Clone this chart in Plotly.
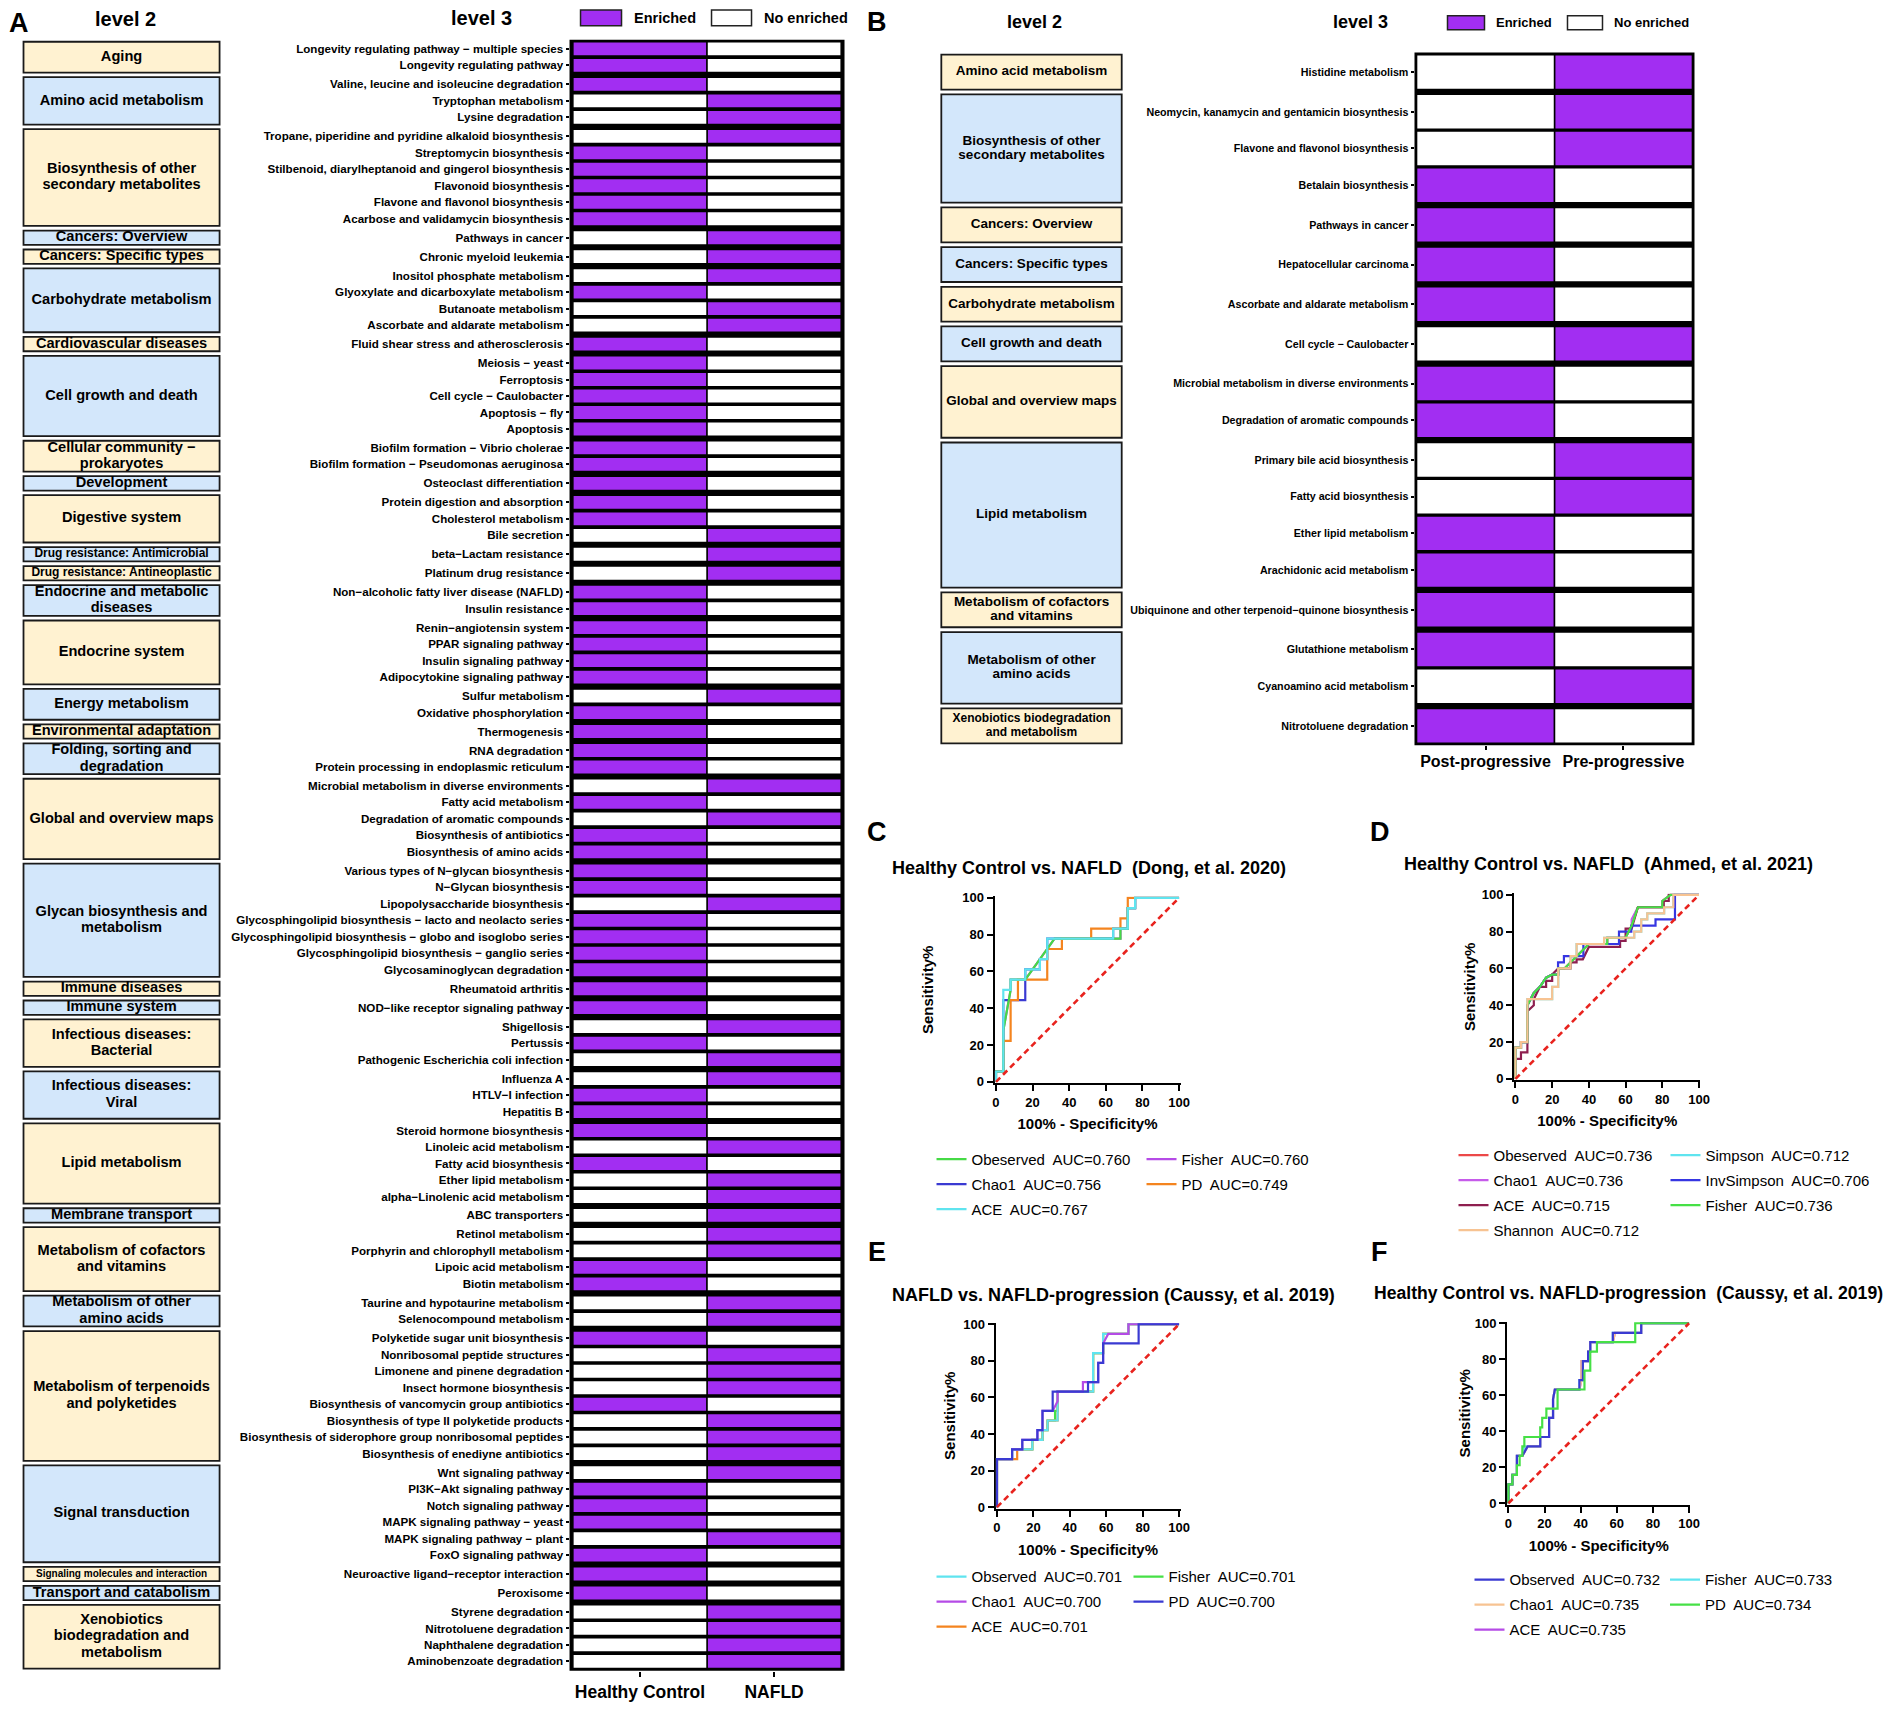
import plotly.graph_objects as go

# the page keeps the browser's default 8px body margin, so the figure is 16px smaller
# than the window; positions below are given in reference pixels and mapped by px/py
W, H = 1902, 1710
M = 8
FW, FH = W - 2 * M, H - 2 * M
FONT = "Arial, Liberation Sans, Helvetica, sans-serif"
PURPLE = "#A22EF2"
CREAM = "#FFF2D1"
SKY = "#D3E7FB"


def px(x):
    xx = (x - 2.5) / 0.9942
    return (xx - M) / FW


def py(y):
    yy = (y - 5.2) / 0.9925
    return 1 - (yy - M) / FH


# ---------------- panel A : Healthy Control vs NAFLD ----------------
a_columns = ["Healthy Control", "NAFLD"]
a_level2 = [
    "Aging", "Amino acid metabolism", "Biosynthesis of other<br>secondary metabolites",
    "Cancers: Overview", "Cancers: Specific types", "Carbohydrate metabolism",
    "Cardiovascular diseases", "Cell growth and death", "Cellular community \u2212<br>prokaryotes",
    "Development", "Digestive system", "Drug resistance: Antimicrobial",
    "Drug resistance: Antineoplastic", "Endocrine and metabolic<br>diseases", "Endocrine system",
    "Energy metabolism", "Environmental adaptation", "Folding, sorting and<br>degradation",
    "Global and overview maps", "Glycan biosynthesis and<br>metabolism", "Immune diseases",
    "Immune system", "Infectious diseases:<br>Bacterial", "Infectious diseases:<br>Viral",
    "Lipid metabolism", "Membrane transport", "Metabolism of cofactors<br>and vitamins",
    "Metabolism of other<br>amino acids", "Metabolism of terpenoids<br>and polyketides",
    "Signal transduction", "Signaling molecules and interaction", "Transport and catabolism",
    "Xenobiotics<br>biodegradation and<br>metabolism",
]
a_level2_size = [2, 3, 6, 1, 1, 4, 1, 5, 2, 1, 3, 1, 1, 2, 4, 2, 1, 2, 5, 7, 1, 1, 3, 3, 5,
                 1, 4, 2, 8, 6, 1, 1, 4]
a_level3 = [
    "Longevity regulating pathway \u2212 multiple species", "Longevity regulating pathway",
    "Valine, leucine and isoleucine degradation", "Tryptophan metabolism", "Lysine degradation",
    "Tropane, piperidine and pyridine alkaloid biosynthesis", "Streptomycin biosynthesis",
    "Stilbenoid, diarylheptanoid and gingerol biosynthesis", "Flavonoid biosynthesis",
    "Flavone and flavonol biosynthesis", "Acarbose and validamycin biosynthesis",
    "Pathways in cancer", "Chronic myeloid leukemia", "Inositol phosphate metabolism",
    "Glyoxylate and dicarboxylate metabolism", "Butanoate metabolism",
    "Ascorbate and aldarate metabolism", "Fluid shear stress and atherosclerosis",
    "Meiosis \u2212 yeast", "Ferroptosis", "Cell cycle \u2212 Caulobacter", "Apoptosis \u2212 fly",
    "Apoptosis", "Biofilm formation \u2212 Vibrio cholerae",
    "Biofilm formation \u2212 Pseudomonas aeruginosa", "Osteoclast differentiation",
    "Protein digestion and absorption", "Cholesterol metabolism", "Bile secretion",
    "beta\u2212Lactam resistance", "Platinum drug resistance",
    "Non\u2212alcoholic fatty liver disease (NAFLD)", "Insulin resistance",
    "Renin\u2212angiotensin system", "PPAR signaling pathway", "Insulin signaling pathway",
    "Adipocytokine signaling pathway", "Sulfur metabolism", "Oxidative phosphorylation",
    "Thermogenesis", "RNA degradation", "Protein processing in endoplasmic reticulum",
    "Microbial metabolism in diverse environments", "Fatty acid metabolism",
    "Degradation of aromatic compounds", "Biosynthesis of antibiotics",
    "Biosynthesis of amino acids", "Various types of N\u2212glycan biosynthesis",
    "N\u2212Glycan biosynthesis", "Lipopolysaccharide biosynthesis",
    "Glycosphingolipid biosynthesis \u2212 lacto and neolacto series",
    "Glycosphingolipid biosynthesis \u2212 globo and isoglobo series",
    "Glycosphingolipid biosynthesis \u2212 ganglio series", "Glycosaminoglycan degradation",
    "Rheumatoid arthritis", "NOD\u2212like receptor signaling pathway", "Shigellosis",
    "Pertussis", "Pathogenic Escherichia coli infection", "Influenza A",
    "HTLV\u2212I infection", "Hepatitis B", "Steroid hormone biosynthesis",
    "Linoleic acid metabolism", "Fatty acid biosynthesis", "Ether lipid metabolism",
    "alpha\u2212Linolenic acid metabolism", "ABC transporters", "Retinol metabolism",
    "Porphyrin and chlorophyll metabolism", "Lipoic acid metabolism", "Biotin metabolism",
    "Taurine and hypotaurine metabolism", "Selenocompound metabolism",
    "Polyketide sugar unit biosynthesis", "Nonribosomal peptide structures",
    "Limonene and pinene degradation", "Insect hormone biosynthesis",
    "Biosynthesis of vancomycin group antibiotics",
    "Biosynthesis of type II polyketide products",
    "Biosynthesis of siderophore group nonribosomal peptides",
    "Biosynthesis of enediyne antibiotics", "Wnt signaling pathway",
    "PI3K\u2212Akt signaling pathway", "Notch signaling pathway",
    "MAPK signaling pathway \u2212 yeast", "MAPK signaling pathway \u2212 plant",
    "FoxO signaling pathway", "Neuroactive ligand\u2212receptor interaction", "Peroxisome",
    "Styrene degradation", "Nitrotoluene degradation", "Naphthalene degradation",
    "Aminobenzoate degradation",
]
# column index of the group where the pathway is enriched (0 = Healthy Control, 1 = NAFLD)
a_enriched = [0, 0, 0, 1, 1, 1, 0, 0, 0, 0, 0, 1, 1, 1, 0, 1, 1,
              0, 0, 0, 0, 0, 0, 0, 0, 0, 0, 0, 1, 1, 1, 0, 0, 0, 0, 0, 0,
              1, 0, 0, 0, 0, 1, 0, 1, 0, 0, 0, 0, 1, 0, 0, 0, 0, 0, 0,
              1, 0, 1, 1, 0, 0, 0, 1, 0, 1, 1, 1, 1, 1, 0, 0, 1, 1,
              0, 1, 1, 1, 0, 1, 1, 1, 1, 0, 0, 0, 1, 0, 0, 0, 1, 1, 1, 1]

# ---------------- panel B : Post- vs Pre-progressive ----------------
b_columns = ["Post-progressive", "Pre-progressive"]
b_level2 = [
    "Amino acid metabolism", "Biosynthesis of other<br>secondary metabolites",
    "Cancers: Overview", "Cancers: Specific types", "Carbohydrate metabolism",
    "Cell growth and death", "Global and overview maps", "Lipid metabolism",
    "Metabolism of cofactors<br>and vitamins", "Metabolism of other<br>amino acids",
    "Xenobiotics biodegradation<br>and metabolism",
]
b_level2_size = [1, 3, 1, 1, 1, 1, 2, 4, 1, 2, 1]
b_level3 = [
    "Histidine metabolism", "Neomycin, kanamycin and gentamicin biosynthesis",
    "Flavone and flavonol biosynthesis", "Betalain biosynthesis", "Pathways in cancer",
    "Hepatocellular carcinoma", "Ascorbate and aldarate metabolism",
    "Cell cycle \u2212 Caulobacter", "Microbial metabolism in diverse environments",
    "Degradation of aromatic compounds", "Primary bile acid biosynthesis",
    "Fatty acid biosynthesis", "Ether lipid metabolism", "Arachidonic acid metabolism",
    "Ubiquinone and other terpenoid\u2212quinone biosynthesis", "Glutathione metabolism",
    "Cyanoamino acid metabolism", "Nitrotoluene degradation",
]
b_enriched = [1, 1, 1, 0, 0, 0, 0, 1, 0, 0, 1, 1, 0, 0, 0, 0, 1, 0]

# ---------------- ROC curves (100% - specificity %, sensitivity %) ----------------
c_obeserved = [(0, 0), (0, 5.6), (4, 5.6), (4, 27.8), (8, 50), (8, 55.6), (16, 55.6), (32, 77.8),
               (68, 77.8), (68, 83.3), (72, 83.3), (72, 94.4), (76, 94.4), (76, 100), (100, 100)]
c_chao1 = [(0, 0), (0, 5.6), (4, 5.6), (4, 44.4), (16, 44.4), (16, 61.1), (24, 61.1), (24, 66.7),
           (28, 66.7), (28, 77.8), (64, 77.8), (64, 83.3), (72, 83.3), (72, 94.4), (76, 94.4),
           (76, 100), (100, 100)]
c_ace = [(0, 0), (0, 5.6), (4, 5.6), (4, 50), (8, 50), (8, 55.6), (16, 55.6), (16, 61.1),
         (24, 61.1), (24, 66.7), (28, 66.7), (28, 77.8), (64, 77.8), (64, 83.3), (72, 83.3),
         (72, 94.4), (76, 94.4), (76, 100), (100, 100)]
c_fisher = [(0, 0), (0, 5.6), (4, 5.6), (4, 27.8), (8, 50), (8, 55.6), (16, 55.6), (32, 77.8),
            (68, 77.8), (68, 83.3), (72, 83.3), (72, 94.4), (76, 94.4), (76, 100), (100, 100)]
c_pd = [(0, 0), (0, 5.6), (4, 5.6), (4, 22.2), (8, 22.2), (8, 44.4), (12, 44.4), (12, 55.6),
        (28, 55.6), (28, 72.2), (36, 72.2), (36, 77.8), (52, 77.8), (52, 83.3), (68, 83.3),
        (68, 88.9), (72, 88.9), (72, 100), (100, 100)]

d_obeserved = [(0, 0), (0, 17), (3, 17), (3, 20), (6.5, 20), (6.5, 40), (10, 46.7), (13.3, 50),
               (16.7, 55), (20, 56.7), (23.3, 56.7), (23.3, 60), (26.7, 60), (30, 63.3),
               (33.3, 66.7), (40, 73.3), (50, 73.3), (50, 76.7), (60, 76.7), (63.3, 83.3),
               (66.7, 93.3), (80, 93.3), (80, 96.7), (84.5, 100), (100, 100)]
d_chao1 = [(0, 0), (0, 17), (3, 17), (3, 20), (6.5, 20), (6.5, 40), (10, 46.7), (13.3, 50),
           (16.7, 55), (20, 56.7), (23.3, 56.7), (23.3, 60), (26.7, 60), (30, 63.3), (33.3, 66.7),
           (40, 73.3), (50, 73.3), (50, 76.7), (60, 76.7), (63.3, 83.3), (63.3, 86.7),
           (66.7, 93.3), (80, 93.3), (80, 96.7), (84.5, 100), (100, 100)]
d_ace = [(0, 0), (0, 10.8), (3, 10.8), (3, 14.4), (6.5, 14.4), (6.5, 36.7), (10, 40), (10, 43.3),
         (13.3, 50), (16.7, 50), (16.7, 53.3), (20, 53.3), (20, 56.7), (23.3, 60), (30, 60),
         (30, 63.3), (33.3, 63.3), (33.3, 65), (36.7, 65), (40, 71.7), (57, 71.7), (57, 75),
         (60, 75), (60, 81.7), (63.3, 81.7), (66.7, 93.3), (80.8, 93.3), (80.8, 96.7),
         (83.5, 96.7), (83.5, 100), (100, 100)]
d_shannon = [(0, 0), (0, 17), (3, 17), (3, 20), (6.5, 20), (6.5, 43.3), (20, 43.3), (20, 50),
             (23.3, 50), (23.3, 60), (30, 60), (30, 66.7), (33.3, 66.7), (33.3, 73.3), (48.3, 73.3),
             (48.3, 76.7), (64.7, 76.7), (64.7, 80), (68.5, 80), (68.5, 86.7), (71.8, 86.7),
             (71.8, 90), (81, 90), (81, 93.3), (86, 93.3), (86, 100), (100, 100)]
d_simpson = [(0, 0), (0, 17), (3, 17), (3, 20), (6.5, 20), (6.5, 43.3), (20, 43.3), (20, 50),
             (23.3, 50), (23.3, 60), (30, 60), (30, 66.7), (33.3, 66.7), (33.3, 73.3), (48.3, 73.3),
             (48.3, 76.7), (64.7, 76.7), (64.7, 80), (68.5, 80), (68.5, 86.7), (71.8, 86.7),
             (71.8, 90), (81, 90), (81, 93.3), (86, 93.3), (86, 100), (100, 100)]
d_invsimpson = [(0, 0), (0, 17), (3, 17), (3, 20), (6.5, 20), (6.5, 40), (10, 46.7), (13.3, 50),
                (16.7, 55), (20, 56.7), (23.2, 56.7), (23.2, 63.3), (26.4, 63.3), (26.4, 66.7),
                (37, 66.7), (37, 73.3), (56.4, 73.3), (56.4, 80), (63.1, 80), (63.1, 83.3),
                (76.3, 83.3), (76.3, 86.7), (86.9, 86.7), (86.9, 93.3), (86.9, 100), (100, 100)]
d_fisher = [(0, 0), (0, 17), (3, 17), (3, 20), (6.5, 20), (6.5, 40), (10, 46.7), (13.3, 50),
            (16.7, 55), (20, 56.7), (23.3, 56.7), (23.3, 60), (26.7, 60), (30, 63.3), (33.3, 66.7),
            (40, 73.3), (50, 73.3), (50, 76.7), (60, 76.7), (63.3, 83.3), (66.7, 93.3), (80, 93.3),
            (80, 96.7), (84.5, 100), (100, 100)]

e_observed = [(0, 0), (0, 26.3), (8.3, 26.3), (8.3, 31.6), (19.4, 31.6), (19.4, 36.8), (25, 36.8),
              (25, 42.1), (27.8, 42.1), (27.8, 47.4), (33.3, 47.4), (33.3, 63.2), (52.8, 63.2),
              (52.8, 84.2), (58.3, 84.2), (58.3, 94.7), (72.2, 94.7), (72.2, 100), (100, 100)]
e_chao1 = [(0, 0), (0, 26.3), (8.3, 26.3), (8.3, 31.6), (13.9, 31.6), (13.9, 36.8), (22.2, 36.8),
           (22.2, 42.1), (25, 42.1), (25, 52.6), (30.6, 52.6), (33.3, 57.9), (33.3, 63.2),
           (47.2, 63.2), (47.2, 68.4), (55.6, 68.4), (55.6, 78.9), (58.3, 78.9), (58.3, 89.5),
           (61.1, 94.7), (72.2, 94.7), (72.2, 100), (100, 100)]
e_ace = [(0, 0), (0, 26.3), (11.1, 26.3), (11.1, 31.6), (19.4, 31.6), (19.4, 36.8), (25, 36.8),
         (25, 42.1), (27.8, 42.1), (27.8, 47.4), (33.3, 47.4), (33.3, 63.2), (52.8, 63.2),
         (52.8, 84.2), (58.3, 84.2), (58.3, 94.7), (72.2, 94.7), (72.2, 100), (100, 100)]
e_fisher = [(0, 0), (0, 26.3), (8.3, 26.3), (8.3, 31.6), (19.4, 31.6), (19.4, 36.8), (25, 36.8),
            (25, 42.1), (27.8, 42.1), (27.8, 47.4), (31.9, 47.4), (31.9, 52.6), (33.3, 52.6),
            (33.3, 63.2), (52.8, 63.2), (52.8, 84.2), (58.3, 84.2), (58.3, 94.7), (72.2, 94.7),
            (72.2, 100), (100, 100)]
e_pd = [(0, 0), (0, 26.3), (8.3, 26.3), (8.3, 31.6), (13.9, 31.6), (13.9, 36.8), (22.2, 36.8),
        (22.2, 42.1), (25, 42.1), (25, 52.6), (30.6, 52.6), (30.6, 63.2), (50, 63.2), (50, 68.4),
        (55.6, 68.4), (55.6, 78.9), (58.3, 78.9), (58.3, 89.5), (77.8, 89.5), (77.8, 100),
        (100, 100)]

f_observed = [(0, 0), (0, 10.5), (2.2, 10.5), (2.2, 15.8), (4.7, 15.8), (4.7, 26.3), (7.7, 26.3),
              (10.6, 31.6), (17.6, 31.6), (17.6, 36.8), (22.5, 36.8), (22.5, 47.4), (24.7, 47.4),
              (24.7, 57.9), (25.7, 63.2), (39.3, 63.2), (39.3, 68.4), (41.2, 68.4), (41.2, 78.9),
              (44.1, 78.9), (44.1, 84.2), (45.3, 84.2), (45.3, 89.5), (57.8, 89.5), (57.8, 94.7),
              (73.5, 94.7), (73.5, 100), (100, 100)]
f_chao1 = [(0, 0), (0, 10.5), (2.2, 10.5), (2.2, 15.8), (4.7, 15.8), (4.7, 26.3), (7.7, 26.3),
           (10.6, 31.6), (17.6, 31.6), (17.6, 36.8), (22.5, 36.8), (22.5, 47.4), (24.7, 47.4),
           (24.7, 57.9), (25.7, 63.2), (39.3, 63.2), (40.4, 68.4), (40.4, 78.9), (44.1, 78.9),
           (44.1, 84.2), (45.3, 84.2), (45.3, 89.5), (57.8, 89.5), (59, 94.7), (73.5, 94.7),
           (73.5, 100), (100, 100)]
f_ace = [(0, 0), (0, 10.5), (2.2, 10.5), (2.2, 15.8), (4.7, 15.8), (4.7, 26.3), (7.7, 26.3),
         (10.6, 31.6), (17.6, 31.6), (17.6, 36.8), (22.5, 36.8), (22.5, 47.4), (24.7, 47.4),
         (24.7, 57.9), (25.7, 63.2), (39.3, 63.2), (40.4, 68.4), (40.4, 78.9), (44.1, 78.9),
         (44.1, 84.2), (45.3, 84.2), (45.3, 89.5), (57.8, 89.5), (59, 94.7), (73.5, 94.7),
         (73.5, 100), (100, 100)]
f_fisher = [(0, 0), (0, 10.5), (2.2, 10.5), (2.2, 15.8), (4.7, 15.8), (4.7, 26.3), (7.7, 26.3),
            (8.8, 31.6), (17.6, 31.6), (17.6, 36.8), (22.5, 36.8), (22.5, 47.4), (24.7, 47.4),
            (24.7, 57.9), (25.7, 63.2), (39.3, 63.2), (39.3, 68.4), (41.2, 68.4), (41.2, 78.9),
            (44.1, 78.9), (44.1, 84.2), (45.3, 84.2), (45.3, 89.5), (57.8, 89.5), (57.8, 94.7),
            (73.5, 94.7), (73.5, 100), (100, 100)]
f_pd = [(0, 0), (0, 10.5), (2.2, 10.5), (2.2, 15.8), (4.7, 15.8), (4.7, 21.1), (6.2, 21.1),
        (6.2, 26.3), (7.7, 26.3), (7.7, 31.6), (8.8, 31.6), (8.8, 36.8), (17.6, 36.8),
        (17.6, 42.1), (18.7, 42.1), (18.7, 47.4), (21, 47.4), (21, 52.6), (27.2, 52.6),
        (27.2, 63.2), (42.1, 63.2), (42.1, 73.7), (45.3, 73.7), (45.3, 84.2), (49, 84.2),
        (49, 89.5), (70.2, 89.5), (70.2, 100), (100, 100)]

chance = [(0, 0), (100, 100)]

GREEN, BLUE, CYAN, VIOLET, ORANGE = "#46DA46", "#3A3AD2", "#5FE4EF", "#B54BE6", "#F4841F"
RED, MAROON, PEACH = "#EC4848", "#8E1F4F", "#F7C392"

# (curve, legend text, colour, legend column, rank) in drawing order
roc_c = [(c_fisher, "Fisher\u00a0 AUC=0.760", VIOLET, 2, 4),
         (c_chao1, "Chao1\u00a0 AUC=0.756", BLUE, 1, 2),
         (c_pd, "PD\u00a0 AUC=0.749", ORANGE, 2, 5),
         (c_obeserved, "Obeserved\u00a0 AUC=0.760", GREEN, 1, 1),
         (c_ace, "ACE\u00a0 AUC=0.767", CYAN, 1, 3)]
roc_d = [(d_obeserved, "Obeserved\u00a0 AUC=0.736", RED, 1, 1),
         (d_chao1, "Chao1\u00a0 AUC=0.736", "#C65BEA", 1, 2),
         (d_simpson, "Simpson\u00a0 AUC=0.712", CYAN, 2, 5),
         (d_ace, "ACE\u00a0 AUC=0.715", MAROON, 1, 3),
         (d_invsimpson, "InvSimpson\u00a0 AUC=0.706", "#3636E2", 2, 6),
         (d_fisher, "Fisher\u00a0 AUC=0.736", "#46E046", 2, 7),
         (d_shannon, "Shannon\u00a0 AUC=0.712", PEACH, 1, 4)]
roc_e = [(e_fisher, "Fisher\u00a0 AUC=0.701", "#46E046", 2, 4),
         (e_ace, "ACE\u00a0 AUC=0.701", ORANGE, 1, 3),
         (e_observed, "Observed\u00a0 AUC=0.701", CYAN, 1, 1),
         (e_chao1, "Chao1\u00a0 AUC=0.700", VIOLET, 1, 2),
         (e_pd, "PD\u00a0 AUC=0.700", BLUE, 2, 5)]
roc_f = [(f_ace, "ACE\u00a0 AUC=0.735", VIOLET, 1, 3),
         (f_fisher, "Fisher\u00a0 AUC=0.733", CYAN, 2, 4),
         (f_chao1, "Chao1\u00a0 AUC=0.735", PEACH, 1, 2),
         (f_observed, "Observed\u00a0 AUC=0.732", BLUE, 1, 1),
         (f_pd, "PD\u00a0 AUC=0.734", "#46E046", 2, 5)]


def row_positions(sizes, gap):
    pos, y = [], 0.0
    for n in sizes:
        for _ in range(n):
            pos.append(y)
            y += 1
        y += gap
    return pos


def group_boxes(sizes, pos, cell):
    centers, spans, k = [], [], 0
    for n in sizes:
        first, last = pos[k], pos[k + n - 1]
        centers.append((first + last) / 2)
        spans.append(last - first + cell)
        k += n
    return centers, spans


fig = go.Figure()
shapes, annotations = [], []


def add_enrichment(level2, sizes, level3, enriched, xa, xa_box, ya, cell, gap, small, line_gap):
    pos = row_positions(sizes, gap)
    n = len(level3)
    fig.add_trace(go.Bar(orientation="h", y=pos, x=[1] * n, base=enriched, width=cell,
                         marker=dict(color=PURPLE, line=dict(color="black", width=1.5)),
                         name="Enriched", showlegend=False, hoverinfo="skip",
                         xaxis=xa, yaxis=ya))
    fig.add_trace(go.Bar(orientation="h", y=pos, x=[1] * n, base=[1 - e for e in enriched],
                         width=cell,
                         marker=dict(color="white", line=dict(color="black", width=1.5)),
                         name="No enriched", showlegend=False, hoverinfo="skip",
                         xaxis=xa, yaxis=ya))
    centers, spans = group_boxes(sizes, pos, cell)
    fills = [CREAM if i % 2 == 0 else SKY for i in range(len(level2))]
    fig.add_trace(go.Bar(orientation="h", y=centers, x=[1] * len(centers), base=0, width=spans,
                         marker=dict(color=fills, line=dict(color="#1a1a1a", width=1.8)),
                         showlegend=False, hoverinfo="skip", xaxis=xa_box, yaxis=ya))
    # one text point per printed line so the line spacing can follow the reference
    ly, lt, ls = [], [], []
    for lab, c in zip(level2, centers):
        parts = lab.split("<br>")
        for i, part in enumerate(parts):
            ly.append(c + (i - (len(parts) - 1) / 2) * line_gap)
            lt.append(part)
            ls.append(small.get(lab, small["default"]))
    fig.add_trace(go.Scatter(x=[0.5] * len(ly), y=ly, mode="text", text=lt,
                             textfont=dict(family=FONT, color="black", weight="bold", size=ls),
                             showlegend=False, hoverinfo="skip", xaxis=xa_box, yaxis=ya))
    return pos


a_cell, a_gap = 0.87, 0.15
b_cell, b_gap = 0.95, 0.08
a_pos = add_enrichment(a_level2, a_level2_size, a_level3, a_enriched, "x", "x2", "y",
                       a_cell, a_gap,
                       {"default": 14.6, "Drug resistance: Antimicrobial": 12,
                        "Drug resistance: Antineoplastic": 12,
                        "Signaling molecules and interaction": 10}, 1.0)
b_pos = add_enrichment(b_level2, b_level2_size, b_level3, b_enriched, "x3", "x4", "y3",
                       b_cell, b_gap,
                       {"default": 13.5, "Xenobiotics biodegradation<br>and metabolism": 12},
                       0.39)

# black frame behind the heatmap cells
for xr, yr in (("x domain", "y domain"), ("x3 domain", "y3 domain")):
    shapes.append(dict(type="rect", xref=xr, yref=yr, x0=0, x1=1, y0=0, y1=1,
                       fillcolor="black", line=dict(width=0), layer="below"))

rocs = [(roc_c, 5, 1), (roc_d, 6, 3), (roc_e, 7, 5), (roc_f, 8, 7)]
for curves, ax, leg in rocs:
    for pts, name, color, col, rank in curves:
        xs, ys = zip(*pts)
        lg = "legend" if (leg + col - 1) == 1 else "legend%d" % (leg + col - 1)
        fig.add_trace(go.Scatter(x=xs, y=ys, mode="lines", name=name,
                                 line=dict(color=color, width=2.2),
                                 legend=lg, legendgroup=lg + name, legendrank=rank,
                                 hoverinfo="skip", xaxis="x%d" % ax, yaxis="y%d" % ax))
    xs, ys = zip(*chance)
    fig.add_trace(go.Scatter(x=xs, y=ys, mode="lines", line=dict(color="#E8231E", width=2.6,
                                                                 dash="6px,4px"),
                             showlegend=False, hoverinfo="skip",
                             xaxis="x%d" % ax, yaxis="y%d" % ax))


def text(x, y, s, size, xanchor="center", weight="bold"):
    annotations.append(dict(x=px(x), y=py(y), xref="paper", yref="paper", text=s,
                            showarrow=False, xanchor=xanchor, yanchor="middle",
                            font=dict(family=FONT, size=size, color="black", weight=weight)))


def key_box(x0, x1, y0, y1, color):
    shapes.append(dict(type="rect", xref="paper", yref="paper", x0=px(x0), x1=px(x1),
                       y0=py(y1), y1=py(y0), fillcolor=color,
                       line=dict(color="#222222", width=1.5)))


# panel letters
for letter, x, y in (("A", 19, 22), ("B", 877, 21), ("C", 877, 836), ("D", 1380, 836),
                     ("E", 877, 1259), ("F", 1380, 1259)):
    text(x, y, letter, 27)

# headers and enrichment keys
text(126, 18, "level 2", 20)
text(482, 17, "level 3", 20)
key_box(581, 622, 9, 25, PURPLE)
text(632, 17, "Enriched", 14.5, "left")
key_box(712, 752, 9, 25, "white")
text(762, 17, "No enriched", 14.5, "left")

text(1035, 21, "level 2", 18)
text(1361, 21, "level 3", 18)
key_box(1448, 1485, 15, 29, PURPLE)
text(1495, 22, "Enriched", 13, "left")
key_box(1568, 1603, 15, 29, "white")
text(1613, 22, "No enriched", 13, "left")

# ROC titles
text(1089, 872, "Healthy Control vs. NAFLD\u00a0 (Dong, et al. 2020)", 18)
text(1609, 868, "Healthy Control vs. NAFLD\u00a0 (Ahmed, et al. 2021)", 18)
text(1114, 1302, "NAFLD vs. NAFLD-progression (Caussy, et al. 2019)", 18)
annotations.append(dict(x=1.0, y=py(1300), xref="paper", yref="paper",
                        text="Healthy Control vs. NAFLD-progression\u00a0 (Caussy, et al. 2019)",
                        showarrow=False, xanchor="right", yanchor="middle",
                        font=dict(family=FONT, size=17.6, color="black", weight="bold")))

layout = dict(
    width=FW, height=FH, margin=dict(l=0, r=0, t=0, b=0), paper_bgcolor="white",
    plot_bgcolor="white", barmode="overlay", hovermode=False, showlegend=True,
    font=dict(family=FONT, color="black"), shapes=shapes, annotations=annotations,
)


def tick_bold(s):
    return dict(family=FONT, size=s, color="black", weight="bold")


# panel A axes
layout["xaxis"] = dict(domain=[px(570), px(845)], range=[-0.025, 2.025], anchor="y",
                       tickmode="array", tickvals=[0.5, 1.5], ticktext=a_columns,
                       ticks="outside", ticklen=5, tickwidth=1.5, tickcolor="black",
                       tickfont=tick_bold(17.5), showgrid=False, zeroline=False, showline=False)
layout["yaxis"] = dict(domain=[py(1680), py(39)], range=[a_pos[-1] + 0.56, -0.56],
                       autorange=False, anchor="x", tickmode="array", tickvals=a_pos,
                       ticktext=a_level3, ticks="outside", ticklen=3, tickwidth=1.5,
                       tickcolor="black", tickfont=tick_bold(11.6), showgrid=False,
                       zeroline=False, showline=False)
layout["xaxis2"] = dict(domain=[px(22), px(222)], range=[-0.01, 1.01], anchor="y",
                        visible=False, showgrid=False, zeroline=False)

# panel B axes
layout["xaxis3"] = dict(domain=[px(1415), px(1695)], range=[-0.015, 2.015], anchor="y3",
                        tickmode="array", tickvals=[0.5, 1.5], ticktext=b_columns,
                        ticks="outside", ticklen=4, tickwidth=1.5, tickcolor="black",
                        ticklabelstandoff=-3,
                        tickfont=tick_bold(16), showgrid=False, zeroline=False, showline=False)
layout["yaxis3"] = dict(domain=[py(749), py(52)], range=[b_pos[-1] + 0.53, -0.53],
                        autorange=False, anchor="x3", tickmode="array", tickvals=b_pos,
                        ticktext=b_level3, ticks="outside", ticklen=3, tickwidth=1.5,
                        tickcolor="black", tickfont=tick_bold(10.7), showgrid=False,
                        zeroline=False, showline=False)
layout["xaxis4"] = dict(domain=[px(940), px(1124)], range=[-0.01, 1.01], anchor="y3",
                        visible=False, showgrid=False, zeroline=False)

# ROC axes: (axis index, x0, x1, y_top, y_bottom, y-title standoff)
roc_boxes = [(5, 995, 1181, 901, 1089, 25), (6, 1514.5, 1701, 898, 1086, 2),
             (7, 996, 1181, 1330, 1517, 4), (8, 1507.5, 1691, 1329, 1513, 0)]
for ax, x0, x1, y0, y1, ystand in roc_boxes:
    common = dict(range=[-0.8, 100.8], autorange=False, tickmode="array",
                  tickvals=[0, 20, 40, 60, 80, 100], ticks="outside", ticklen=6, tickwidth=2,
                  tickcolor="black", showline=True, linewidth=2, linecolor="black",
                  tickfont=tick_bold(13), showgrid=False, zeroline=False,
                  layer="below traces")
    layout["xaxis%d" % ax] = dict(common, domain=[px(x0), px(x1)], anchor="y%d" % ax,
                                  title=dict(text="100% - Specificity%", font=tick_bold(15),
                                             standoff=10))
    layout["yaxis%d" % ax] = dict(common, domain=[py(y1), py(y0)], anchor="x%d" % ax,
                                  title=dict(text="Sensitivity%", font=tick_bold(15),
                                             standoff=ystand))

# legends: (legend key, text start x, first row y)
legend_pos = [("legend", 972, 1161), ("legend2", 1182, 1161), ("legend3", 1494, 1157),
              ("legend4", 1706, 1157), ("legend5", 972, 1581), ("legend6", 1169, 1581),
              ("legend7", 1510, 1584), ("legend8", 1705.5, 1584)]
for key, tx, ty in legend_pos:
    layout[key] = dict(x=px(tx - 40), y=py(ty - 12), xanchor="left", yanchor="top",
                       orientation="v", bgcolor="rgba(0,0,0,0)", borderwidth=0,
                       tracegroupgap=2.5, itemwidth=30,
                       font=dict(family=FONT, size=15, color="black"))

fig.update_layout(**layout)

fig.write_html("out.html", config={"displayModeBar": False})
